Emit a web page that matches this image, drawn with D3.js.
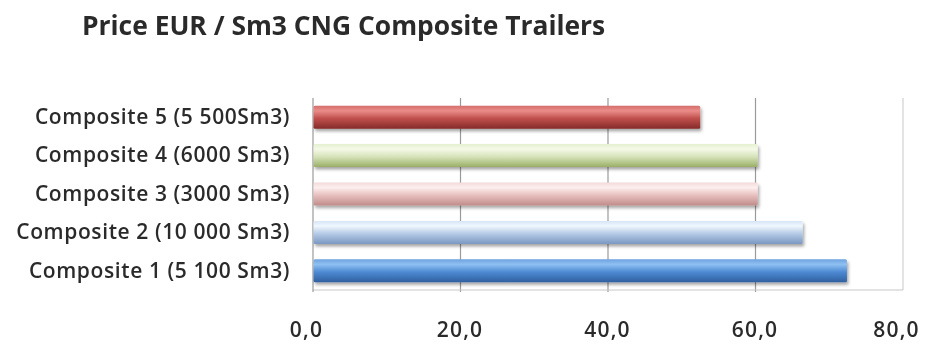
<!DOCTYPE html>
<html>
<head>
<meta charset="utf-8">
<script src="https://cdn.jsdelivr.net/npm/d3@7"></script>
<style>
  html, body { margin: 0; padding: 0; background: #fff; }
  svg { display: block; }
  text { font-family: "Open Sans", Lato, sans-serif; fill: #2b2b2b; }
</style>
</head>
<body>
<svg id="chart" width="926" height="345"></svg>
<script>
// Price per Sm3 for each composite trailer, bottom to top
const categories = [
  "Composite 1 (5 100 Sm3)",
  "Composite 2 (10 000 Sm3)",
  "Composite 3 (3000 Sm3)",
  "Composite 4 (6000 Sm3)",
  "Composite 5 (5 500Sm3)"
];
const prices = [72.4, 66.4, 60.3, 60.3, 52.5];
const xTicks = [0, 20, 40, 60, 80];
const chartTitle = "Price EUR / Sm3 CNG Composite Trailers";

// Cylinder shading per bar: top edge, highlight, body, bottom edge
const barShades = [
  ["#6da2df", "#8fc0f2", "#4e8ad3", "#2f5f9f"],
  ["#d5e4f6", "#f0f7fe", "#b6cbe6", "#7b98c2"],
  ["#f1dad9", "#fcefee", "#e8c0bf", "#bf8c8a"],
  ["#e5efd0", "#f5f9e8", "#d6e3b9", "#99ae66"],
  ["#d46d6a", "#ea8d8a", "#c0504d", "#852b29"]
];

const svg = d3.select("#chart");
const margin = { left: 313, right: 23, top: 98, bottom: 55 };
const W = 926, H = 345;
const innerW = W - margin.left - margin.right;
const innerH = H - margin.top - margin.bottom;

const x = d3.scaleLinear().domain([0, 80]).range([0, innerW]);
const y = d3.scaleBand().domain(categories.slice().reverse()).range([0, innerH]).paddingInner(0.4).paddingOuter(0.2);

const defs = svg.append("defs");
barShades.forEach((s, i) => {
  const g = defs.append("linearGradient").attr("id", "shade" + i)
    .attr("x1", 0).attr("y1", 0).attr("x2", 0).attr("y2", 1);
  g.append("stop").attr("offset", "0%").attr("stop-color", s[0]);
  g.append("stop").attr("offset", "22%").attr("stop-color", s[1]);
  g.append("stop").attr("offset", "55%").attr("stop-color", s[2]);
  g.append("stop").attr("offset", "100%").attr("stop-color", s[3]);
});
const shadow = defs.append("filter").attr("id", "barShadow")
  .attr("x", "-5%").attr("y", "-30%").attr("width", "110%").attr("height", "180%");
shadow.append("feGaussianBlur").attr("in", "SourceGraphic").attr("stdDeviation", 0.4).attr("result", "b");
shadow.append("feDropShadow").attr("in", "b").attr("dx", 1.5).attr("dy", 2.5).attr("stdDeviation", 1.5)
  .attr("flood-color", "#000").attr("flood-opacity", 0.35);
const soft = defs.append("filter").attr("id", "soft");
soft.append("feGaussianBlur").attr("stdDeviation", 0.55);

// Title
svg.append("text")
  .attr("x", 82).attr("y", 35)
  .attr("font-size", 26.4).attr("font-weight", "bold")
  .attr("filter", "url(#soft)")
  .text(chartTitle);

const plot = svg.append("g").attr("transform", `translate(${margin.left},${margin.top})`);

// Gridlines and plot frame
plot.append("g").selectAll("line").data(xTicks.slice(1, -1)).join("line")
  .attr("x1", d => x(d)).attr("x2", d => x(d))
  .attr("y1", 0).attr("y2", innerH + 2)
  .attr("stroke", "#9a9a9a").attr("stroke-width", 1.2);
plot.append("line").attr("x1", x(80)).attr("x2", x(80)).attr("y1", 0).attr("y2", innerH)
  .attr("stroke", "#d0d0d0").attr("stroke-width", 1.2);
plot.append("line").attr("x1", 0).attr("x2", x(80)).attr("y1", innerH).attr("y2", innerH)
  .attr("stroke", "#c8c8c8").attr("stroke-width", 1.2);
plot.append("line").attr("x1", 0).attr("x2", 0).attr("y1", 0).attr("y2", innerH + 2)
  .attr("stroke", "#9a9a9a").attr("stroke-width", 1.2);

// Bars
plot.append("g").selectAll("rect").data(categories).join("rect")
  .attr("x", 0.5)
  .attr("y", d => y(d))
  .attr("height", y.bandwidth())
  .attr("width", (d, i) => x(prices[i]) - 0.5)
  .attr("rx", 1.5)
  .attr("fill", (d, i) => `url(#shade${i})`)
  .attr("filter", "url(#barShadow)");

// Category labels
const yAxis = plot.append("g")
  .call(d3.axisLeft(y).tickSize(0).tickPadding(23))
  .attr("filter", "url(#soft)");
yAxis.select(".domain").remove();
yAxis.selectAll("text").attr("font-size", 21).attr("font-weight", 600)
  .attr("letter-spacing", 0.6)
  .attr("fill", "#2b2b2b").attr("font-family", "'Open Sans', Lato, sans-serif");

// Value axis with comma decimals; end labels pulled slightly inward-left
const locale = d3.formatLocale({ decimal: ",", thousands: " ", grouping: [3], currency: ["", "€"] });
const xAxis = plot.append("g").attr("transform", `translate(0,${innerH})`)
  .call(d3.axisBottom(x).tickValues(xTicks).tickSize(0).tickPadding(32).tickFormat(locale.format(".1f")))
  .attr("filter", "url(#soft)");
xAxis.select(".domain").remove();
xAxis.selectAll("text").attr("font-size", 21).attr("font-weight", 600)
  .attr("letter-spacing", 1.2)
  .attr("dx", (d, i, n) => (i === 0 || i === n.length - 1) ? -7 : -1)
  .attr("fill", "#2b2b2b").attr("font-family", "'Open Sans', Lato, sans-serif");
</script>
</body>
</html>
